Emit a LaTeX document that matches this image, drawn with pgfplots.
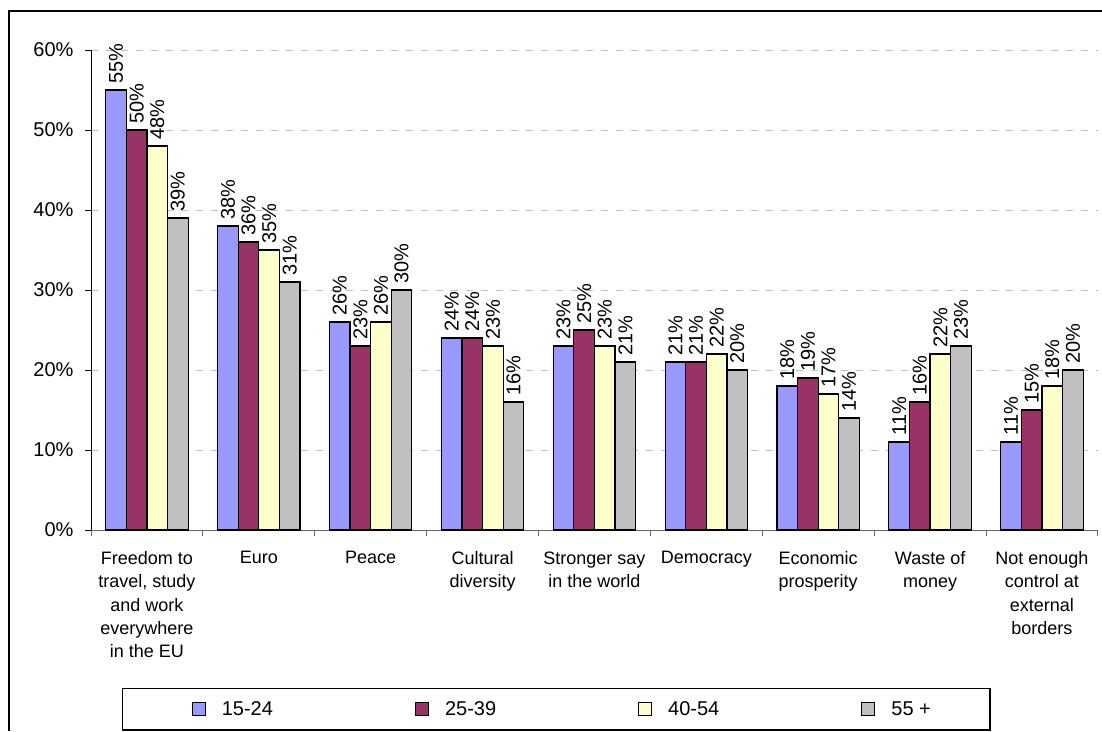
\documentclass[border=0pt]{standalone}
\usepackage{fontspec}
\setmainfont{Liberation Sans}
\usepackage{pgfplots}
\pgfplotsset{compat=1.18}
\usepackage{pgfplotstable}
\definecolor{cA}{RGB}{153,153,255}
\definecolor{cB}{RGB}{153,51,102}
\definecolor{cC}{RGB}{255,255,204}
\definecolor{cD}{RGB}{192,192,192}
\definecolor{gridc}{RGB}{192,192,192}
\pgfplotstableread{
x a b c d
0 55 50 48 39
1 38 36 35 31
2 26 23 26 30
3 24 24 23 16
4 23 25 23 21
5 21 21 22 20
6 18 19 17 14
7 11 16 22 23
8 11 15 18 20
}\data
\newcommand{\bigf}{\fontsize{20}{24}\selectfont}
\newcommand{\smf}{\fontsize{18}{23.3}\selectfont}
\begin{document}
\begin{tikzpicture}[x=1pt,y=1pt]
\draw[line width=1.2pt] (9,0) -- (9,720) -- (1102,720);
\begin{axis}[
 at={(91pt,201pt)}, anchor=south west,
 scale only axis, width=1007pt, height=480pt,
 xmin=-0.5, xmax=8.5, ymin=0, ymax=60,
 ybar=0pt, bar width=20.6pt,
 axis x line=bottom, axis y line=left, axis line style={-},
 x axis line style={draw=black!60, line width=1pt},
 y axis line style={draw=black, line width=1pt},
 clip=false,
 tick align=outside, major tick length=6pt,
 tick style={line width=1pt, black},
 ytick={0,10,...,60},
 yticklabel={\pgfmathprintnumber{\tick}\%},
 y tick label style={font=\bigf, xshift=-8pt},
 /pgf/number format/assume math mode=true,
 xtick={-0.5,0.5,...,8.5},
 xticklabels={{Freedom to\\travel, study\\and work\\everywhere\\in the EU},
   Euro, Peace, {Cultural\\diversity}, {Stronger say\\in the world}, Democracy,
   {Economic\\prosperity}, {Waste of\\money}, {Not enough\\control at\\external\\borders}, {}},
 x tick label style={font=\smf, align=center, xshift=55.95pt, anchor=north, yshift=-12pt},
 x tick style={draw=black!60},
 ymajorgrids=true, xmajorgrids=false,
 grid style={draw=gridc, line width=1pt, dash pattern=on 7pt off 8pt},
 nodes near coords={\pgfmathprintnumber{\pgfplotspointmeta}\%},
 nodes near coords style={rotate=90, anchor=west, font=\bigf, inner xsep=6pt, text=black},
 legend columns=4,
 legend image code/.code={\draw[#1, draw=black, line width=1.2pt] (0pt,-6.5pt) rectangle (13pt,6.5pt);},
 legend style={at={(0.0308,-0.329)}, anchor=north west, draw=black, line width=1.2pt,
   font=\bigf, inner xsep=69pt, inner ysep=11pt},
]
\addplot[fill=cA, draw=black, line width=1.2pt] table[x=x,y=a]{\data};
\addlegendentry{\bigf\hspace*{14pt}\makebox[191pt][l]{15-24}}
\addplot[fill=cB, draw=black, line width=1.2pt] table[x=x,y=b]{\data};
\addlegendentry{\bigf\hspace*{14pt}\makebox[191pt][l]{25-39}}
\addplot[fill=cC, draw=black, line width=1.2pt] table[x=x,y=c]{\data};
\addlegendentry{\bigf\hspace*{14pt}\makebox[191pt][l]{40-54}}
\addplot[fill=cD, draw=black, line width=1.2pt] table[x=x,y=d]{\data};
\addlegendentry{\bigf\hspace*{14pt}55 +\hspace*{-12pt}}
\end{axis}
\pgfresetboundingbox
\path (0,0) rectangle (1102,731);
\end{tikzpicture}
\end{document}
